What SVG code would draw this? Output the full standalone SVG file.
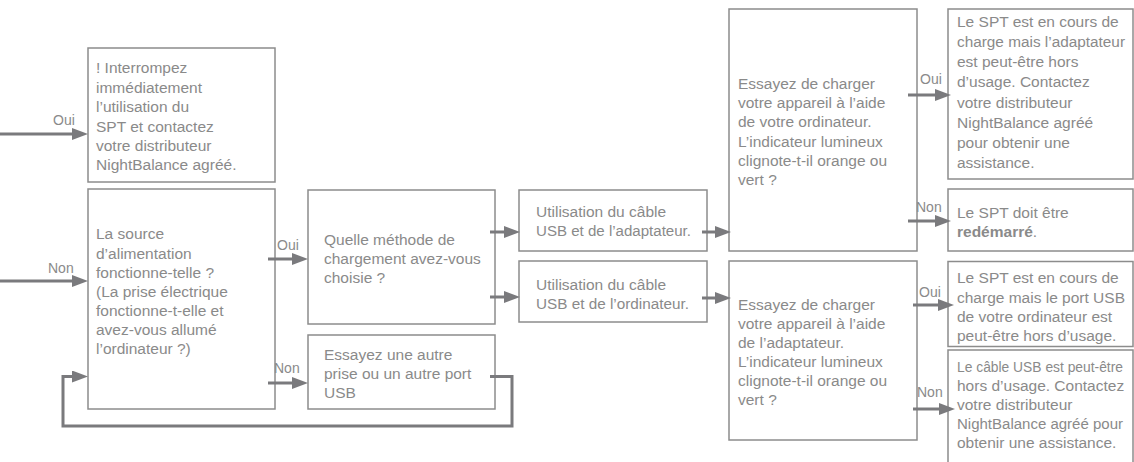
<svg xmlns="http://www.w3.org/2000/svg" width="1134" height="462" viewBox="0 0 1134 462">
<defs>
<style>
.box{fill:#fff;stroke:#8c8c8c;stroke-width:1.5}
.t{font-family:"Liberation Sans",Arial,sans-serif;font-size:15.5px;fill:#8a8a8a}
.b{font-weight:bold}
.lbl{font-family:"Liberation Sans",Arial,sans-serif;font-size:14px;fill:#8a8a8a}
.c{fill:none;stroke:#7a7a7d;stroke-width:3}
</style>
<marker id="ah" markerUnits="userSpaceOnUse" markerWidth="16" markerHeight="12" refX="6" refY="6" orient="auto"><path d="M0,0 L16,6 L0,12 z" fill="#7a7a7d"/></marker>
</defs>
<rect width="1134" height="462" fill="#fff"/>

<g id="nodeA">
<rect class="box" x="88" y="48" width="187" height="134"/>
<text class="t"><tspan x="96" y="73">! Interrompez</tspan><tspan x="96" y="92.5">immédiatement</tspan><tspan x="96" y="112">l’utilisation du</tspan><tspan x="96" y="131.5">SPT et contactez</tspan><tspan x="96" y="151">votre distributeur</tspan><tspan x="96" y="170">NightBalance agréé.</tspan></text>
</g>
<g id="nodeB">
<rect class="box" x="88" y="189" width="187" height="220"/>
<text class="t"><tspan x="96" y="239">La source</tspan><tspan x="96" y="258.5">d’alimentation</tspan><tspan x="96" y="278">fonctionne-telle ?</tspan><tspan x="96" y="297">(La prise électrique</tspan><tspan x="96" y="316">fonctionne-t-elle et</tspan><tspan x="96" y="335">avez-vous allumé</tspan><tspan x="96" y="354">l’ordinateur ?)</tspan></text>
</g>
<g id="nodeC">
<rect class="box" x="308" y="190" width="187" height="134"/>
<text class="t"><tspan x="324" y="245">Quelle méthode de</tspan><tspan x="324" y="264">chargement avez-vous</tspan><tspan x="324" y="283">choisie ?</tspan></text>
</g>
<g id="nodeD">
<rect class="box" x="308" y="335" width="187" height="74"/>
<text class="t"><tspan x="324" y="359.5">Essayez une autre</tspan><tspan x="324" y="378.5">prise ou un autre port</tspan><tspan x="324" y="397.5">USB</tspan></text>
</g>
<g id="nodeE">
<rect class="box" x="519" y="190" width="188" height="61"/>
<text class="t"><tspan x="536" y="217">Utilisation du câble</tspan><tspan x="536" y="236" textLength="155" lengthAdjust="spacingAndGlyphs">USB et de l’adaptateur.</tspan></text>
</g>
<g id="nodeF">
<rect class="box" x="519" y="261" width="188" height="61"/>
<text class="t"><tspan x="536" y="289.5">Utilisation du câble</tspan><tspan x="536" y="308.5" textLength="153" lengthAdjust="spacingAndGlyphs">USB et de l’ordinateur.</tspan></text>
</g>
<g id="nodeG">
<rect class="box" x="729" y="9" width="188" height="242"/>
<text class="t"><tspan x="738" y="89">Essayez de charger</tspan><tspan x="738" y="108.2">votre appareil à l’aide</tspan><tspan x="738" y="127.4">de votre ordinateur.</tspan><tspan x="738" y="146.6">L’indicateur lumineux</tspan><tspan x="738" y="165.8">clignote-t-il orange ou</tspan><tspan x="738" y="185">vert ?</tspan></text>
</g>
<g id="nodeH">
<rect class="box" x="729" y="261" width="188" height="179"/>
<text class="t"><tspan x="738" y="310">Essayez de charger</tspan><tspan x="738" y="329">votre appareil à l’aide</tspan><tspan x="738" y="348">de l’adaptateur.</tspan><tspan x="738" y="367">L’indicateur lumineux</tspan><tspan x="738" y="386">clignote-t-il orange ou</tspan><tspan x="738" y="405">vert ?</tspan></text>
</g>
<g id="nodeI">
<rect class="box" x="948" y="9" width="185" height="170"/>
<text class="t"><tspan x="957" y="27">Le SPT est en cours de</tspan><tspan x="957" y="47" textLength="168" lengthAdjust="spacingAndGlyphs">charge mais l’adaptateur</tspan><tspan x="957" y="67.2">est peut-être hors</tspan><tspan x="957" y="87.4">d’usage. Contactez</tspan><tspan x="957" y="107.6">votre distributeur</tspan><tspan x="957" y="127.8">NightBalance agréé</tspan><tspan x="957" y="148">pour obtenir une</tspan><tspan x="957" y="168">assistance.</tspan></text>
</g>
<g id="nodeJ">
<rect class="box" x="948" y="189" width="185" height="62"/>
<text class="t"><tspan x="957" y="218">Le SPT doit être</tspan><tspan x="957" y="237"><tspan class="b">redémarré</tspan>.</tspan></text>
</g>
<g id="nodeK">
<rect class="box" x="948" y="261.5" width="185" height="85"/>
<text class="t"><tspan x="957" y="283">Le SPT est en cours de</tspan><tspan x="957" y="302.5">charge mais le port USB</tspan><tspan x="957" y="321.5">de votre ordinateur est</tspan><tspan x="957" y="341">peut-être hors d’usage.</tspan></text>
</g>
<g id="nodeL">
<rect class="box" x="948" y="350" width="185" height="130"/>
<text class="t"><tspan x="957" y="372" textLength="166" lengthAdjust="spacingAndGlyphs">Le câble USB est peut-être</tspan><tspan x="957" y="391">hors d’usage. Contactez</tspan><tspan x="957" y="410">votre distributeur</tspan><tspan x="957" y="429" textLength="166" lengthAdjust="spacingAndGlyphs">NightBalance agréé pour</tspan><tspan x="957" y="448">obtenir une assistance.</tspan></text>
</g>

<g id="connectors">
<path class="c" d="M0,134 H78" marker-end="url(#ah)"/>
<path class="c" d="M0,281 H78" marker-end="url(#ah)"/>
<path class="c" d="M268,259 H298" marker-end="url(#ah)"/>
<path class="c" d="M268,383 H298" marker-end="url(#ah)"/>
<path class="c" d="M490,376.5 H512 V426 H63 V376.5 H78" marker-end="url(#ah)"/>
<path class="c" d="M490,232 H510" marker-end="url(#ah)"/>
<path class="c" d="M490,297 H510" marker-end="url(#ah)"/>
<path class="c" d="M702,232 H721" marker-end="url(#ah)"/>
<path class="c" d="M702,298 H721" marker-end="url(#ah)"/>
<path class="c" d="M908,95 H941" marker-end="url(#ah)"/>
<path class="c" d="M908,221 H941" marker-end="url(#ah)"/>
<path class="c" d="M913,305 H944" marker-end="url(#ah)"/>
<path class="c" d="M913,409 H945" marker-end="url(#ah)"/>
<text class="lbl" x="53" y="125">Oui</text>
<text class="lbl" x="48" y="273">Non</text>
<text class="lbl" x="277" y="250">Oui</text>
<text class="lbl" x="274" y="373">Non</text>
<text class="lbl" x="920" y="84">Oui</text>
<text class="lbl" x="916" y="212">Non</text>
<text class="lbl" x="919" y="296.5">Oui</text>
<text class="lbl" x="917" y="397">Non</text>
</g>
</svg>
